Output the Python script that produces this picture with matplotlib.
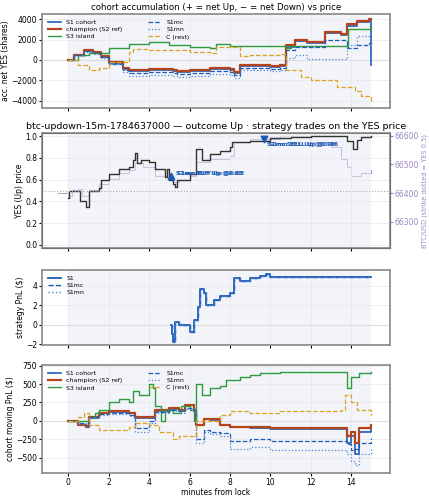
import numpy as np
import matplotlib
matplotlib.use("Agg")
import matplotlib.pyplot as plt

# --- data ---
s1_sh_t = [0, 0.3, 0.8, 1.2, 1.6, 2.0, 2.7, 3.0, 4.0, 5.2, 5.4, 6.0, 7.0, 8.0, 8.2, 8.5, 10.0, 10.5, 10.8, 11.2, 11.8, 12.7, 13.5, 13.8, 14.3, 14.9, 15.0]
s1_sh_v = [0, 500, 900, 700, 300, -300, -900, -1100, -1000, -1100, -1200, -1100, -900, -1000, -1300, -600, -700, -600, 1300, 1900, 1700, 2600, 2400, 3300, 3700, 3900, -500]
ch_sh_v = [0, 500, 1000, 800, 400, -200, -800, -1000, -900, -1000, -1100, -1000, -800, -900, -1200, -500, -600, -500, 1500, 2000, 1800, 2700, 2500, 3500, 3800, 4000, 4000]
mc_sh_v = [0, 450, 850, 650, 250, -350, -1000, -1300, -1200, -1300, -1400, -1300, -1100, -1200, -1500, -800, -900, -800, 1000, 1300, 1300, 2000, 2000, 1200, 1500, 1700, 1800]
mn_sh_v = [0, 400, 800, 600, 200, -400, -1200, -1600, -1500, -1600, -1700, -1600, -1400, -1500, -1800, -1000, -1100, -1000, 200, 500, 100, 100, 100, 1500, 2300, 2500, 0]
s3_sh_t = [0, 0.5, 1.0, 2.0, 3.0, 4.0, 5.0, 6.0, 7.0, 7.3, 8.0, 10.8, 11.0, 13.8, 13.85, 15.0]
s3_sh_v = [0, 500, 700, 1200, 1600, 1800, 1500, 1300, 1200, 1600, 1400, 1200, 1400, 1300, 3000, 3100]
c_sh_t = [0, 0.5, 1.0, 1.5, 2.0, 3.0, 3.2, 4.0, 6.0, 7.0, 7.3, 8.5, 9.0, 10.5, 10.8, 11.5, 12.0, 13.0, 13.3, 14.0, 14.2, 14.5, 15.0]
c_sh_v = [0, -500, -1000, -800, -200, 800, 1100, 1000, 800, 700, 1300, 400, 500, 600, -1000, -1700, -2000, -2000, -2600, -2600, -3000, -3500, -4000]

yes_t = [0, 0.05, 0.5, 0.6, 0.9, 1.0, 1.5, 1.6, 2.0, 2.5, 3.0, 3.2, 3.3, 3.4, 3.6, 4.0, 4.3, 4.8, 4.9, 5.0, 5.2, 5.3, 5.4, 6.0, 6.3, 6.6, 7.0, 7.5, 8.0, 8.1, 9.0, 10.0, 11.0, 12.0, 13.8, 14.1, 14.3, 14.5, 15.0]
yes_v = [0.43, 0.5, 0.5, 0.4, 0.35, 0.5, 0.52, 0.6, 0.65, 0.7, 0.72, 0.78, 0.85, 0.75, 0.78, 0.76, 0.7, 0.62, 0.7, 0.6, 0.56, 0.53, 0.6, 0.65, 0.88, 0.78, 0.84, 0.86, 0.9, 0.95, 0.96, 0.98, 0.99, 1.0, 0.96, 0.88, 0.97, 0.99, 1.0]
btc_t = [-0.5, 0, 0.2, 0.5, 0.7, 1.0, 1.5, 2.0, 2.5, 3.0, 3.3, 3.7, 4.3, 4.8, 5.2, 5.5, 6.0, 6.3, 7.0, 8.0, 8.2, 9.0, 10.0, 10.5, 12.0, 13.0, 13.5, 13.8, 14.0, 14.5, 15.0]
btc_v = [66400, 66390, 66410, 66415, 66390, 66410, 66430, 66450, 66470, 66480, 66505, 66490, 66460, 66455, 66440, 66445, 66460, 66510, 66520, 66530, 66580, 66590, 66590, 66600, 66580, 66560, 66520, 66490, 66460, 66470, 66480]

pnl_t = [5.1, 5.15, 5.2, 5.3, 5.5, 5.8, 6.0, 6.2, 6.4, 6.5, 6.7, 6.8, 7.2, 7.5, 8.0, 8.2, 8.5, 9.0, 9.5, 9.8, 10.0, 15.0]
pnl_v = [0, -1, -1.8, 0.3, 0, 0, -0.8, 0.5, 1.8, 3.7, 3.2, 2.0, 2.5, 2.9, 3.2, 4.8, 4.5, 4.8, 5.0, 5.2, 4.9, 4.9]

mv_t = [0, 0.5, 0.9, 1.0, 1.5, 2.0, 3.0, 3.3, 4.0, 4.3, 5.0, 5.5, 5.8, 6.2, 6.3, 6.7, 7.0, 7.5, 8.0, 9.0, 10.0, 13.6, 13.8, 14.0, 14.2, 14.4, 15.0]
ch_mv_v = [0, -50, -80, 50, 110, 130, 110, 50, 50, 150, 170, 150, 220, 150, -50, 30, 20, -50, -80, -90, -100, -100, -200, -150, -300, -100, -50]
s1_mv_v = [0, -50, -90, 40, 100, 120, 100, 40, 40, 140, 160, 140, 210, 140, -60, 20, 10, -60, -90, -100, -110, -110, -300, -200, -450, -150, -60]
mc_mv_v = [0, -30, -60, 50, 90, 100, 80, -100, 0, 120, 150, 130, 180, 120, -250, -120, -150, -170, -280, -250, -270, -280, -320, -400, -380, -300, -240]
mn_mv_v = [0, -40, -80, 40, 80, 90, 70, -150, -30, 100, 130, 110, 160, 100, -300, -150, -180, -200, -380, -350, -400, -400, -450, -550, -600, -450, -350]
s3_mv_t = [0, 1.0, 1.3, 1.5, 2.0, 2.5, 3.0, 3.2, 3.5, 4.0, 4.2, 4.3, 4.6, 4.8, 5.2, 5.6, 6.0, 6.2, 6.3, 6.6, 7.0, 7.5, 7.8, 8.5, 9.0, 9.5, 10.5, 13.7, 13.8, 14.0, 14.4, 15.0]
s3_mv_v = [0, 50, 100, 150, 250, 300, 250, 400, 350, 500, 450, 200, 0, 150, 100, 200, 150, 0, 500, 350, 450, 480, 550, 600, 620, 650, 660, 670, 450, 600, 650, 670]
c_mv_t = [0, 0.5, 0.8, 1.0, 1.5, 3.0, 3.3, 4.0, 4.5, 5.2, 5.5, 6.0, 6.3, 7.0, 7.5, 8.0, 9.0, 10.5, 13.5, 13.7, 14.0, 14.3, 15.0]
c_mv_v = [0, 50, 100, -50, -120, -80, -30, -60, -150, -250, -200, -200, 0, 0, 80, 130, 100, 130, 150, 350, 250, 150, 80]

BLUE = "#1f5bb5"
RED = "#b5441c"
GREEN = "#2e9a3e"
ORANGE = "#dca21f"
LBLUE = "#4a86d6"
PURPLE = "#9c88c4"

plt.rcParams.update({"font.size": 5.5, "axes.titlesize": 6.2})
fig = plt.figure(figsize=(4.29, 5.0), dpi=100)
ax1 = fig.add_axes([0.098, 0.784, 0.81, 0.188])
ax2 = fig.add_axes([0.098, 0.504, 0.81, 0.23])
ax3 = fig.add_axes([0.098, 0.31, 0.81, 0.15])
ax4 = fig.add_axes([0.098, 0.054, 0.81, 0.216])

for ax in (ax1, ax2, ax3, ax4):
    ax.axvspan(0, 15, color="#e6ebf5", alpha=0.5, lw=0)
    ax.set_xlim(-1.3, 15.9)
    ax.set_xticks(range(0, 16, 2))
    ax.grid(True, color="#e8e8e8", lw=0.5)
    for sp in ax.spines.values():
        sp.set_color("#888888")
        sp.set_linewidth(1.2)
    ax.tick_params(length=2, pad=1.5)
for ax in (ax1, ax2, ax3):
    ax.tick_params(labelbottom=False)

# panel 1
ax1.axhline(0, color="#dddddd", lw=0.8)
ax1.step(s1_sh_t, s1_sh_v, where="post", color=BLUE, lw=1.2, label="S1 cohort")
ax1.step(s1_sh_t, ch_sh_v, where="post", color=RED, lw=1.6, label="champion (S2 ref)")
ax1.step(s3_sh_t, s3_sh_v, where="post", color=GREEN, lw=1.0, label="S3 island")
ax1.step(s1_sh_t, mc_sh_v, where="post", color=BLUE, lw=0.9, ls="--", label="S1mc")
ax1.step(s1_sh_t, mn_sh_v, where="post", color=LBLUE, lw=0.9, ls=":", label="S1mn")
ax1.step(c_sh_t, c_sh_v, where="post", color=ORANGE, lw=0.9, ls="--", label="C (rest)")
ax1.set_ylim(-4700, 4500)
ax1.set_yticks([-4000, -2000, 0, 2000, 4000])
ax1.set_ylabel("acc. net YES (shares)", labelpad=1)
ax1.set_title("cohort accumulation (+ = net Up, − = net Down) vs price", pad=3)
ax1.legend(ncol=2, loc="upper left", frameon=False, fontsize=4.5, handlelength=2.2, labelspacing=0.3, columnspacing=4)

# panel 2
ax2b = ax2.twinx()
ax2.set_zorder(ax2b.get_zorder() + 1)
ax2.patch.set_visible(False)
ax2b.plot(btc_t, btc_v, drawstyle="steps-post", color=PURPLE, lw=0.8, alpha=0.8)
ax2b.set_ylim(66208, 66610)
ax2b.set_yticks([66300, 66400, 66500, 66600])
ax2b.tick_params(colors=PURPLE, length=2, pad=1.5)
ax2b.set_ylabel("BTC/USD (strike dotted = YES 0.5)", color=PURPLE, fontsize=4.8, labelpad=2)
ax2.step(yes_t, yes_v, where="post", color="#333333", lw=1.0)
ax2.axhline(0.5, color="#aaaaaa", ls=":", lw=0.8)
ax2.set_ylim(-0.03, 1.03)
ax2.set_yticks([0.0, 0.2, 0.4, 0.6, 0.8, 1.0])
ax2.set_ylabel("YES (Up) price", labelpad=1)
ax2.set_title("btc-updown-15m-1784637000 — outcome Up · strategy trades on the YES price", pad=3, fontsize=6.8)
ax2.scatter([5.1], [0.63], marker="^", color=BLUE, s=22, zorder=5)
ax2.scatter([9.7], [0.975], marker="v", color=BLUE, s=22, zorder=5)
for lab, dx in (("S1mc BUY Up @0.63", 0.0), ("S1mn BUY Up @0.63", 0.8)):
    ax2.annotate(lab, (5.1, 0.63), xytext=(3 + dx, 1), textcoords="offset points", color=BLUE, fontsize=4.2, fontweight="bold")
for lab, dx in (("S1mc SELL Up @0.96", 0.0), ("S1mn SELL Up @0.96", 1.2)):
    ax2.annotate(lab, (9.7, 0.975), xytext=(2 + dx, -5), textcoords="offset points", color=BLUE, fontsize=4.2, fontweight="bold")

# panel 3
ax3.axhline(0, color="#dddddd", lw=0.8)
ax3.step(pnl_t, pnl_v, where="post", color=BLUE, lw=1.3, label="S1")
ax3.step(pnl_t, pnl_v, where="post", color=BLUE, lw=1.0, ls="--", label="S1mc")
ax3.step(pnl_t, pnl_v, where="post", color=LBLUE, lw=1.0, ls=":", label="S1mn")
ax3.set_ylim(-2.1, 5.6)
ax3.set_yticks([-2, 0, 2, 4])
ax3.set_ylabel("strategy PnL ($)", labelpad=1)
ax3.legend(loc="upper left", frameon=False, fontsize=4.5, handlelength=2.2, labelspacing=0.3)

# panel 4
ax4.axhline(0, color="#dddddd", lw=0.8)
ax4.step(mv_t, s1_mv_v, where="post", color=BLUE, lw=1.2, label="S1 cohort")
ax4.step(mv_t, ch_mv_v, where="post", color=RED, lw=1.6, label="champion (S2 ref)")
ax4.step(s3_mv_t, s3_mv_v, where="post", color=GREEN, lw=1.0, label="S3 island")
ax4.step(mv_t, mc_mv_v, where="post", color=BLUE, lw=0.9, ls="--", label="S1mc")
ax4.step(mv_t, mn_mv_v, where="post", color=LBLUE, lw=0.9, ls=":", label="S1mn")
ax4.step(c_mv_t, c_mv_v, where="post", color=ORANGE, lw=0.9, ls="--", label="C (rest)")
ax4.set_ylim(-710, 760)
ax4.set_yticks([-500, -250, 0, 250, 500, 750])
ax4.set_ylabel("cohort moving PnL ($)", labelpad=1)
ax4.set_xlabel("minutes from lock", labelpad=1)
ax4.legend(ncol=2, loc="upper left", frameon=False, fontsize=4.5, handlelength=2.2, labelspacing=0.3, columnspacing=4)

fig.savefig("out.png", dpi=100)
